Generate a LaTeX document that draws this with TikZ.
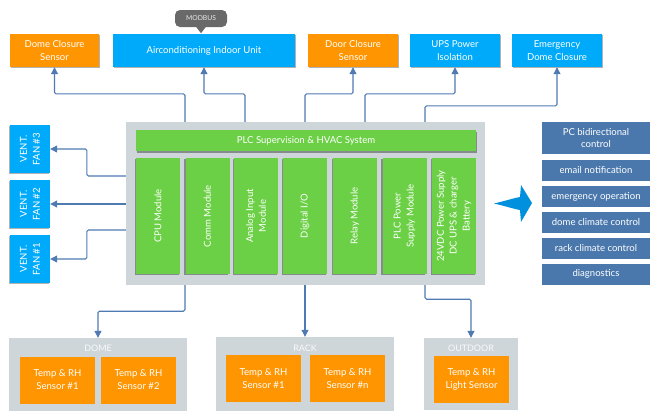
\documentclass[tikz,border=0pt]{standalone}
\usepackage{fontspec}
\setmainfont{Lato}
\usetikzlibrary{arrows.meta,shadows}
\definecolor{boxorange}{RGB}{255,149,0}
\definecolor{boxblue}{RGB}{0,170,250}
\definecolor{plcgreen}{RGB}{108,208,70}
\definecolor{groupgray}{RGB}{207,214,217}
\definecolor{listblue}{RGB}{74,120,173}
\definecolor{linkblue}{RGB}{80,122,178}
\definecolor{bigarrow}{RGB}{0,144,221}
\definecolor{bubblegray}{RGB}{105,105,105}
\tikzset{
	box/.style={rectangle, inner sep=1bp, align=center, text=white, font=\fontsize{9.6}{13}\selectfont},
	shade box/.style={drop shadow={shadow xshift=1bp, shadow yshift=-1.2bp, opacity=0.3, fill=black}},
	orangebox/.style={box, shade box, fill=boxorange},
	bluebox/.style={box, shade box, fill=boxblue},
	fanbox/.style={box, fill=boxblue, rotate=90, minimum width=48bp, minimum height=40bp,
		drop shadow={shadow xshift=-1.2bp, shadow yshift=-1bp, opacity=0.3, fill=black}},
	module/.style={box, fill=plcgreen, rotate=90, minimum width=116bp, minimum height=44bp,
		drop shadow={shadow xshift=-1.2bp, shadow yshift=-1.2bp, opacity=0.35, fill=black}},
	listbox/.style={box, fill=listblue, minimum width=108bp},
	group/.style={rectangle, fill=groupgray, inner sep=0},
	grouplabel/.style={text=white!85!groupgray, font=\fontsize{9}{10}\selectfont, inner sep=0},
	sensor/.style={box, fill=boxorange, minimum width=75bp, minimum height=47bp},
	conn/.style={draw=linkblue, line width=1.1bp, rounded corners=1.5bp, -{Triangle[length=7bp,width=7bp]}},
}
\begin{document}
\begin{tikzpicture}[x=1bp, y=-1bp]
	\useasboundingbox (0,0) rectangle (651,411);
	%top row
	\node[orangebox, minimum width=89bp, minimum height=33bp] (domeclose) at (54.5,50.5) {Dome Closure\\Sensor};
	\node[bluebox, minimum width=182bp, minimum height=33bp] (aircon) at (204,50.5) {Airconditioning Indoor Unit};
	\node[orangebox, minimum width=90bp, minimum height=33bp] (doorclose) at (353,50.5) {Door Closure\\Sensor};
	\node[bluebox, minimum width=90bp, minimum height=33bp] (ups) at (455,50.5) {UPS Power\\Isolation};
	\node[bluebox, minimum width=90bp, minimum height=33bp] (emergency) at (557,50.5) {Emergency\\Dome Closure};
	%modbus
	\node[rectangle, rounded corners=5bp, fill=bubblegray, text=white!85!bubblegray, minimum width=52bp, minimum height=17bp, inner sep=0,
		font=\fontsize{6.8}{8}\selectfont] (modbus) at (201,18.5) {MODBUS};
	\fill[bubblegray] (modbus.south) +(-5,-0.5) -- +(0,6) -- +(5,-0.5) -- cycle;
	%
	%plc
	\node[group, minimum width=359bp, minimum height=163bp] (plc) at (305.5,203.5) {};
	\node[box, fill=plcgreen, minimum width=340bp, minimum height=21bp,
		drop shadow={shadow xshift=1bp, shadow yshift=-1.5bp, opacity=0.35, fill=black}] (header) at (306,140.5) {PLC Supervision \& HVAC System};
	\node[module] (cpu) at (158,216) {CPU Module};
	\node[module] (comm) at (207.5,216) {Comm Module};
	\node[module] (analog) at (256,216) {Analog Input\\Module};
	\node[module] (digital) at (305,216) {Digital I/O};
	\node[module] (relay) at (355,216) {Relay Module};
	\node[module] (plcpower) at (404.5,216) {PLC Power\\Supply Module};
	\node[module] (dcups) at (454,216) {24VDC Power Supply\\DC UPS \& charger\\Battery};
	%
	%fans
	\node[fanbox] (fan3) at (30,149) {VENT.\\FAN \#3};
	\node[fanbox] (fan2) at (30,204) {VENT.\\FAN \#2};
	\node[fanbox] (fan1) at (30,259) {VENT.\\FAN \#1};
	%
	%right list
	\node[listbox, minimum height=32bp] (pcctrl) at (596,138) {PC bidirectional\\control};
	\node[listbox, minimum height=21bp] (email) at (596,170.5) {email notification};
	\node[listbox, minimum height=21bp] (emop) at (596,196.5) {emergency operation};
	\node[listbox, minimum height=21bp] (domeclim) at (596,222.5) {dome climate control};
	\node[listbox, minimum height=21bp] (rackclim) at (596,248) {rack climate control};
	\node[listbox, minimum height=21bp] (diag) at (596,274) {diagnostics};
	\fill[bigarrow] (494,203.5) .. controls (505,201) and (514,198) .. (520,197) -- (521,185)
		-- (532,203) -- (521,222) -- (520,210) .. controls (514,209) and (505,206) .. cycle;
	%
	%bottom groups
	\node[group, minimum width=178bp, minimum height=73bp] (dome) at (98,374.5) {};
	\node[grouplabel] (domelabel) at (98,348.5) {DOME};
	\node[sensor] (domes1) at (57.5,380) {Temp \& RH\\Sensor \#1};
	\node[sensor] (domes2) at (138.5,380) {Temp \& RH\\Sensor \#2};
	\node[group, minimum width=178bp, minimum height=74bp] (rack) at (305,374) {};
	\node[grouplabel] (racklabel) at (305,348.5) {RACK};
	\node[sensor] (racks1) at (263.5,378.5) {Temp \& RH\\Sensor \#1};
	\node[sensor] (racksn) at (347.5,378.5) {Temp \& RH\\Sensor \#n};
	\node[group, minimum width=94bp, minimum height=72bp] (outdoor) at (471,374) {};
	\node[grouplabel] (outdoorlabel) at (471,348.5) {OUTDOOR};
	\node[sensor] (outs) at (471.5,379) {Temp \& RH\\Light Sensor};
	%
	%connectors
	\draw[conn] (plc.north -| 185,0) -- ++(0,-28) -| (domeclose.south);
	\draw[conn] (plc.north -| 245,0) -- ++(0,-28) -| (aircon.south);
	\draw[conn] (plc.north -| 305,0) -- ++(0,-28) -| (doorclose.south);
	\draw[conn] (plc.north -| 365,0) -- ++(0,-28) -| (ups.south);
	\draw[conn] (plc.north -| 425,0) -- ++(0,-16) -| (emergency.south);
	\draw[conn] (plc.west |- 0,176) -- ++(-39,0) |- (fan3.south);
	\draw[conn] (plc.west |- fan2) -- (fan2.south);
	\draw[conn] (plc.west |- 0,230) -- ++(-39,0) |- (fan1.south);
	\draw[conn] (plc.south -| 185,0) -- ++(0,26) -| (dome.north);
	\draw[conn] (plc.south -| rack) -- (rack.north);
	\draw[conn] (plc.south -| 425,0) -- ++(0,14) -| (outdoor.north);
\end{tikzpicture}
\end{document}
